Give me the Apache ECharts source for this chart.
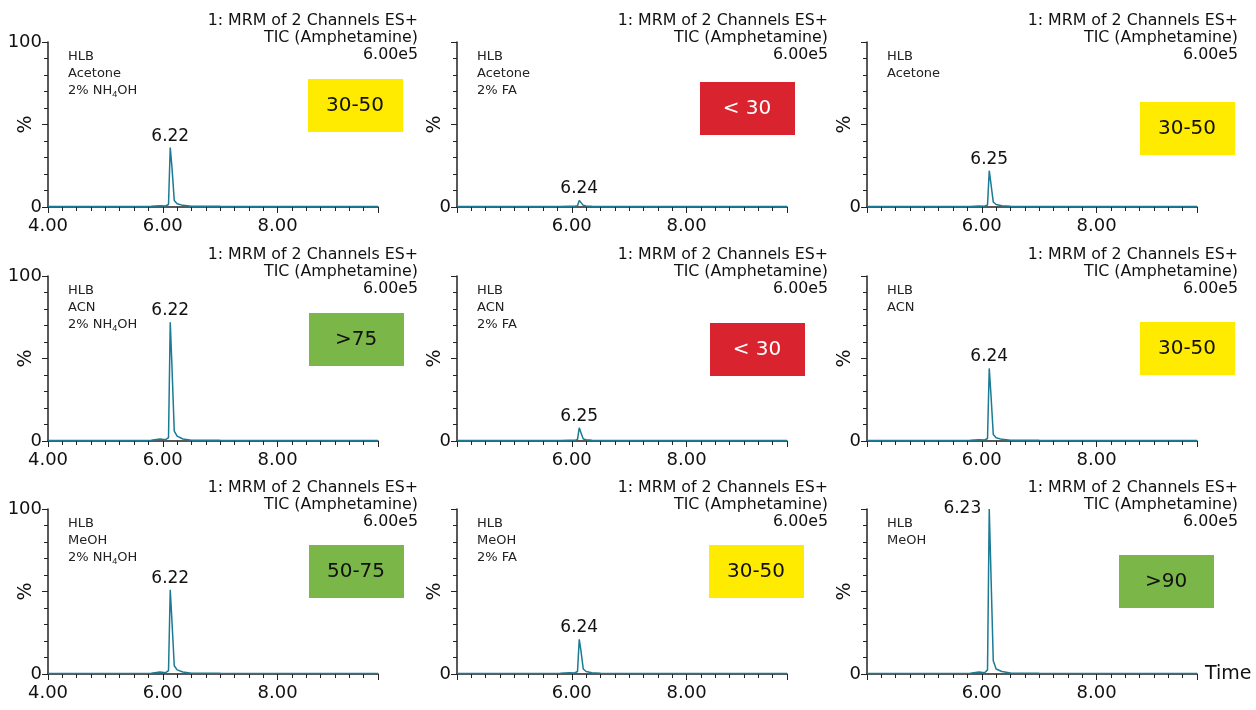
<!DOCTYPE html>
<html><head><meta charset="utf-8">
<script src="https://cdn.jsdelivr.net/npm/echarts@6/dist/echarts.min.js"></script>
<style>html,body{margin:0;padding:0;background:#fff}#c{width:1256px;height:710px}</style>
</head><body><div id="c"></div>
<script>
// retention-time axis points (min) shared by all traces
const times = [4.0, 5.8, 5.95, 6.05, 6.1, 6.13, 6.16, 6.2, 6.25, 6.35, 6.5, 7.0, 9.75];
// intensity (%) per panel, row-major
const trace1 = [0.3, 0.4, 0.8, 0.6, 1.5, 36, 24, 4, 2, 1, 0.5, 0.4, 0.3];
const trace2 = [0.3, 0.3, 0.4, 0.4, 0.8, 4, 3, 1, 0.6, 0.4, 0.3, 0.3, 0.3];
const trace3 = [0.3, 0.3, 0.6, 0.5, 1.2, 22, 14, 3, 1.5, 0.8, 0.4, 0.3, 0.3];
const trace4 = [0.3, 0.5, 1.2, 0.8, 2, 72, 45, 6, 3, 1.2, 0.5, 0.4, 0.3];
const trace5 = [0.3, 0.3, 0.5, 0.4, 1, 8, 5, 1.2, 0.7, 0.4, 0.3, 0.3, 0.3];
const trace6 = [0.3, 0.4, 0.8, 0.6, 1.5, 44, 28, 4, 2, 1, 0.5, 0.4, 0.3];
const trace7 = [0.3, 0.5, 1.2, 0.8, 2, 51, 32, 5, 2.5, 1.2, 0.5, 0.4, 0.3];
const trace8 = [0.3, 0.4, 0.8, 0.6, 1.5, 21, 14, 3, 1.5, 0.8, 0.4, 0.3, 0.3];
const trace9 = [0.3, 0.5, 1.2, 0.8, 2.5, 100, 99, 8, 3, 1.5, 0.6, 0.4, 0.3];
const traces = [trace1,trace2,trace3,trace4,trace5,trace6,trace7,trace8,trace9];
const peakLabels = ['6.22','6.24','6.25','6.22','6.25','6.24','6.22','6.24','6.23'];
const samples = [
  ['HLB','Acetone','2% NH{s|4}OH'],['HLB','Acetone','2% FA'],['HLB','Acetone'],
  ['HLB','ACN','2% NH{s|4}OH'],['HLB','ACN','2% FA'],['HLB','ACN'],
  ['HLB','MeOH','2% NH{s|4}OH'],['HLB','MeOH','2% FA'],['HLB','MeOH']];
const recoveries = ['30-50','< 30','30-50','>75','< 30','30-50','50-75','30-50','>90'];
const recoveryColors = ['#ffeb00','#d9232e','#ffeb00','#7ab648','#d9232e','#ffeb00','#7ab648','#ffeb00','#7ab648'];
const headerLines = ['1: MRM of 2 Channels ES+','TIC (Amphetamine)','6.00e5'];

const colLeft=[48,457,867], rowTop=[42,276,509], gw=330, gh=165;
const headRight=[418,828,1238];
const boxPos=[[308,79],[700,82],[1140,102],[309,313],[710,323],[1140,322],[309,545],[709,545],[1119,555]];
const grids=[],xAxes=[],yAxes=[],series=[],graphic=[];
const font='DejaVu Sans';
for(let i=0;i<9;i++){
  const r=Math.floor(i/3),c=i%3;
  grids.push({left:colLeft[c],top:rowTop[r],width:gw,height:gh,outerBoundsMode:'none',containLabel:false});
  xAxes.push({gridIndex:i,type:'value',min:4,max:9.75,interval:2,
    axisLine:{lineStyle:{color:'#222',width:1.5}},
    axisTick:{show:true,length:6,lineStyle:{color:'#222'}},
    minorTick:{show:true,splitNumber:8,length:4,lineStyle:{color:'#222'}},
    splitLine:{show:false},
    name:i===8?'Time':'',nameGap:8,nameTextStyle:{fontSize:19,color:'#111',fontFamily:font,verticalAlign:'middle'},
    axisLabel:{fontSize:18,color:'#111',fontFamily:font,margin:10,showMaxLabel:false,
      formatter:v=>(v===4&&c>0)?'':(v===9.75?'':v.toFixed(2))}});
  yAxes.push({gridIndex:i,type:'value',min:0,max:100,interval:50,
    axisLine:{show:true,lineStyle:{color:'#222',width:1.5}},
    axisTick:{show:true,length:6,lineStyle:{color:'#222'}},
    minorTick:{show:true,splitNumber:5,length:4,lineStyle:{color:'#222'}},
    splitLine:{show:false},
    name:'%',nameLocation:'middle',nameRotate:90,nameGap:12,nameMoveOverlap:false,
    nameTextStyle:{fontSize:19,color:'#111',fontFamily:font},
    axisLabel:{fontSize:18,color:'#111',fontFamily:font,margin:6,
      formatter:v=>v===0?'0':(v===100&&c===0?'100':'')}});
  const tr=traces[i];
  let pk=0; tr.forEach((v,k)=>{if(v>tr[pk])pk=k;});
  series.push({type:'line',xAxisIndex:i,yAxisIndex:i,symbol:'none',
    lineStyle:{color:'#1b7a94',width:1.5},
    data:times.map((t,k)=>[t,tr[k]]),
    markPoint:{symbol:'circle',symbolSize:0,silent:true,
      data:[{coord:[times[pk],tr[pk]],label:{show:true,formatter:peakLabels[i],
        position:i===8?'left':'top',distance:i===8?8:3,fontSize:17,color:'#111',fontFamily:font}}]}});
  graphic.push({type:'text',x:headRight[c],y:rowTop[r]-30,
    style:{text:headerLines.join('\n'),align:'right',font:'15.8px '+font,fill:'#111',lineHeight:17}});
  graphic.push({type:'text',left:colLeft[c]+20,top:rowTop[r]+6,
    style:{text:samples[i].join('\n'),font:'13px '+font,fill:'#222',lineHeight:17,
      rich:{s:{fontSize:9,verticalAlign:'bottom',padding:[6,0,0,0]}}}});
  const [bx,by]=boxPos[i];
  graphic.push({type:'rect',shape:{x:bx,y:by,width:95,height:53},style:{fill:recoveryColors[i]}});
  graphic.push({type:'text',x:bx+47,y:by+27,style:{text:recoveries[i],font:'20px '+font,
    fill:recoveryColors[i]==='#d9232e'?'#fff':'#111',align:'center',verticalAlign:'middle'}});
}
const chart=echarts.init(document.getElementById('c'));
chart.setOption({animation:false,grid:grids,xAxis:xAxes,yAxis:yAxes,series:series,graphic:graphic});
</script></body></html>
